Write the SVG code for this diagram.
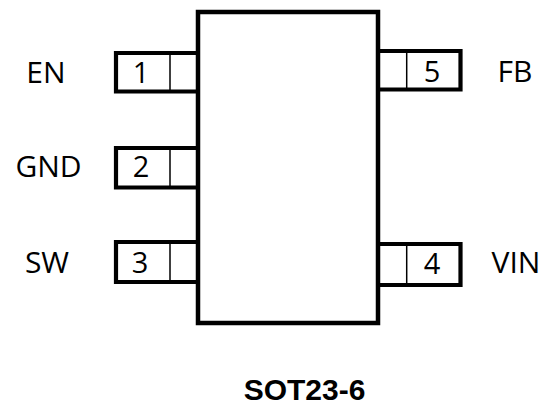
<svg xmlns="http://www.w3.org/2000/svg" width="547" height="408" viewBox="0 0 547 408">
<style>
.pin{fill:none;stroke:#000;stroke-width:4.2;stroke-linejoin:miter}
.div{stroke:#000;stroke-width:1.5}
.body{fill:#fff;stroke:#000;stroke-width:4.5}
.lbl{font-family:"Open Sans","Noto Sans",sans-serif;font-size:30px;fill:#000;text-anchor:middle}
.num{font-family:"Open Sans","Noto Sans",sans-serif;font-size:29px;fill:#000;text-anchor:middle}
.title{font-family:"Liberation Sans",Arial,sans-serif;font-size:30px;font-weight:bold;fill:#000;text-anchor:middle}
</style>
<rect width="547" height="408" fill="#fff"/>
<g id="pin1">
<path class="pin" d="M199 53 H116 V91.5 H199"/>
<line class="div" x1="170" y1="53" x2="170" y2="91.5"/>
<text class="num" x="141" y="83">1</text>
<text class="lbl" x="46" y="83">EN</text>
</g>
<g id="pin2">
<path class="pin" d="M199 148 H116 V187.5 H199"/>
<line class="div" x1="170" y1="148" x2="170" y2="187.5"/>
<text class="num" x="141" y="177">2</text>
<text class="lbl" x="48.5" y="177">GND</text>
</g>
<g id="pin3">
<path class="pin" d="M199 242 H116 V282 H199"/>
<line class="div" x1="170" y1="242" x2="170" y2="282"/>
<text class="num" x="140" y="273">3</text>
<text class="lbl" x="47" y="273">SW</text>
</g>
<g id="pin5">
<path class="pin" d="M378 51 H460.5 V89.5 H378"/>
<line class="div" x1="406.7" y1="51" x2="406.7" y2="89.5"/>
<text class="num" x="432" y="82">5</text>
<text class="lbl" x="515" y="82">FB</text>
</g>
<g id="pin4">
<path class="pin" d="M378 244 H460.5 V285 H378"/>
<line class="div" x1="406.7" y1="244" x2="406.7" y2="285"/>
<text class="num" x="432" y="274">4</text>
<text class="lbl" x="516" y="273">VIN</text>
</g>
<g id="body">
<rect class="body" x="198" y="12" width="180" height="311"/>
</g>
<g id="connectors"></g>
<text id="title" class="title" x="304.5" y="400">SOT23-6</text>
</svg>
